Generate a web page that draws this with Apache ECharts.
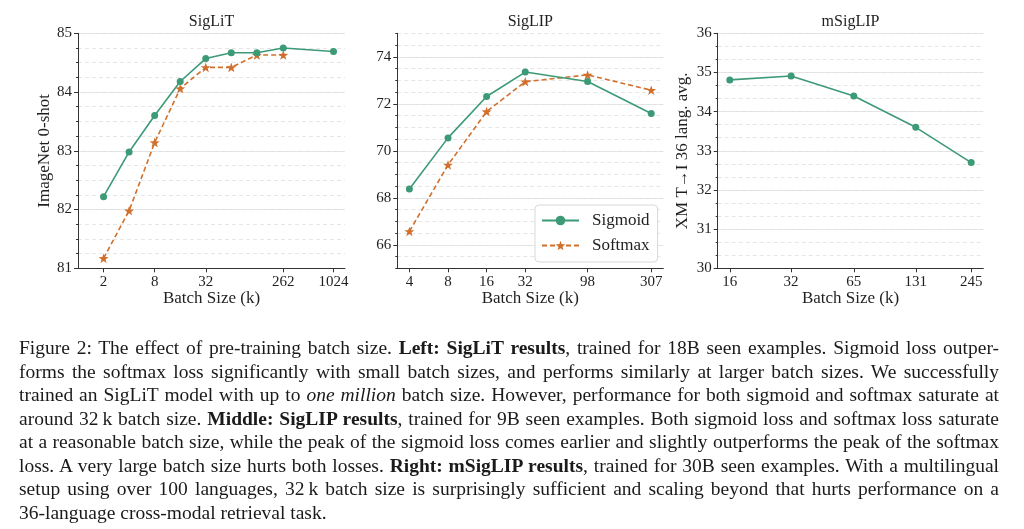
<!DOCTYPE html>
<html>
<head>
<meta charset="utf-8">
<script src="https://cdn.jsdelivr.net/npm/echarts@6/dist/echarts.min.js"></script>
<style>
html,body{margin:0;padding:0;background:#fff;}
#chart{position:absolute;left:0;top:0;width:1024px;height:529px;}
#caption{position:absolute;left:19px;top:336px;width:980px;font-family:"Liberation Serif",serif;font-size:19.5px;color:#1a1a1a;}
#caption div{height:23.5px;line-height:23.5px;text-align:justify;text-align-last:justify;white-space:nowrap;}
#caption div.last{text-align-last:left;}
</style>
</head>
<body>
<div id="chart"></div>
<div id="caption">
<div>Figure 2: The effect of pre-training batch size. <b>Left: SigLiT results</b>, trained for 18B seen examples. Sigmoid loss outper-</div>
<div>forms the softmax loss significantly with small batch sizes, and performs similarly at larger batch sizes. We successfully</div>
<div>trained an SigLiT model with up to <i>one million</i> batch size. However, performance for both sigmoid and softmax saturate at</div>
<div>around 32&#8201;k batch size. <b>Middle: SigLIP results</b>, trained for 9B seen examples. Both sigmoid loss and softmax loss saturate</div>
<div>at a reasonable batch size, while the peak of the sigmoid loss comes earlier and slightly outperforms the peak of the softmax</div>
<div>loss. A very large batch size hurts both losses. <b>Right: mSigLIP results</b>, trained for 30B seen examples. With a multilingual</div>
<div>setup using over 100 languages, 32&#8201;k batch size is surprisingly sufficient and scaling beyond that hurts performance on a</div>
<div class="last">36-language cross-modal retrieval task.</div>
</div>
<script>
// ---- data ----
const siglitBatch   = [2, 4, 8, 16, 32, 64, 128, 262, 1024];
const siglitSigmoid = [82.22, 82.98, 83.60, 84.18, 84.57, 84.67, 84.67, 84.75, 84.69];
const siglitSoftmax = [81.17, 81.98, 83.14, 84.06, 84.42, 84.42, 84.63, 84.63];
const siglitXTicks  = [2, 8, 32, 262, 1024];
const siglitYTicks  = [81, 82, 83, 84, 85];

const siglipBatch   = [4, 8, 16, 32, 98, 307];
const siglipSigmoid = [68.37, 70.55, 72.31, 73.35, 72.95, 71.59];
const siglipSoftmax = [66.57, 69.40, 71.67, 72.94, 73.23, 72.58];
const siglipXTicks  = [4, 8, 16, 32, 98, 307];
const siglipYTicks  = [66, 68, 70, 72, 74];

const msiglipBatch   = [16, 32, 65, 131, 245];
const msiglipSigmoid = [34.81, 34.91, 34.40, 33.60, 32.70];
const msiglipXTicks  = [16, 32, 65, 131, 245];
const msiglipYTicks  = [30, 31, 32, 33, 34, 35, 36];

const titles = ['SigLiT', 'SigLIP', 'mSigLIP'];
const xName = 'Batch Size (k)';
const yNames = ['ImageNet 0-shot', '', 'XM T\u2192I 36 lang. avg.'];
const seriesNames = ['Sigmoid', 'Softmax'];

// ---- style ----
const FONT = '"Liberation Serif", "DejaVu Serif", serif';
const GREEN = '#3c9a76';
const ORANGE = '#d0702c';
const AXIS = '#333';
const TXT = '#1f1f1f';
const STAR = 'path://M0,-10L2.35,-3.24L9.51,-3.09L3.8,1.24L5.88,8.09L0,4L-5.88,8.09L-3.8,1.24L-9.51,-3.09L-2.35,-3.24Z';

const grids = [
  {left: 78, top: 33.3, width: 267, height: 235},
  {left: 397.3, top: 33.3, width: 266, height: 235},
  {left: 717.7, top: 33.3, width: 265.6, height: 235}
];
const xRanges = [[0, 10.45], [1.687, 8.575], [3.803, 8.134]];
const yRanges = [[81, 85], [65, 75], [30, 36]];
const yMinor = [0.25, 0.5, 1/3];
const yNameGap = [25, 0, 27];

function xAxisFor(g, ticks) {
  const vals = ticks.map(Math.log2);
  return {
    type: 'value', gridIndex: g, min: xRanges[g][0], max: xRanges[g][1],
    axisLine: {show: true, onZero: false, lineStyle: {color: AXIS, width: 1}},
    axisTick: {show: true, customValues: vals, length: 4, lineStyle: {color: AXIS}},
    axisLabel: {
      customValues: vals, margin: 6, fontSize: 15, color: TXT, fontFamily: FONT,
      formatter: v => { const i = vals.findIndex(t => Math.abs(t - v) < 1e-6); return i >= 0 ? String(ticks[i]) : ''; }
    },
    splitLine: {show: false},
    name: xName, nameLocation: 'middle', nameGap: 21,
    nameTextStyle: {fontSize: 17, color: TXT, fontFamily: FONT}
  };
}
function yAxesFor(g, ticks) {
  return [{
    type: 'value', gridIndex: g, position: 'left', min: yRanges[g][0], max: yRanges[g][1],
    axisLine: {show: true, onZero: false, lineStyle: {color: AXIS, width: 1}},
    axisTick: {show: true, customValues: ticks, length: 4, lineStyle: {color: AXIS}},
    axisLabel: {customValues: ticks, margin: 6, fontSize: 15, color: TXT, fontFamily: FONT},
    splitLine: {show: true, lineStyle: {color: '#e0e0e0', width: 1, type: 'solid'}},
    name: yNames[g], nameLocation: 'middle', nameGap: yNameGap[g],
    nameTextStyle: {fontSize: 17, color: TXT, fontFamily: FONT}
  }, {
    type: 'value', gridIndex: g, position: 'left', offset: 0, min: yRanges[g][0], max: yRanges[g][1],
    interval: yMinor[g],
    axisLine: {show: false},
    axisTick: {show: true, length: 2, lineStyle: {color: AXIS}},
    axisLabel: {show: false},
    splitLine: {show: true, lineStyle: {color: '#e6e6e6', width: 1, type: [4, 3]}}
  }];
}
function pts(batch, vals) { return vals.map((v, i) => [Math.log2(batch[i]), v]); }
function lineSeries(name, g, data, color, dashed) {
  return {
    type: 'line', name, xAxisIndex: g, yAxisIndex: g * 2, data,
    symbol: dashed ? STAR : 'circle', symbolSize: dashed ? 10 : 7, symbolKeepAspect: true,
    showSymbol: true, clip: false, animation: false, z: dashed ? 3 : 4,
    lineStyle: {color, width: 1.6, type: dashed ? [5, 3] : 'solid'},
    itemStyle: {color}
  };
}

const chart = echarts.init(document.getElementById('chart'), null, {renderer: 'canvas'});
chart.setOption({
  backgroundColor: '#fff',
  animation: false,
  grid: grids.map(g => Object.assign({outerBoundsMode: 'none', containLabel: false}, g)),
  xAxis: [xAxisFor(0, siglitXTicks), xAxisFor(1, siglipXTicks), xAxisFor(2, msiglipXTicks)],
  yAxis: [...yAxesFor(0, siglitYTicks), ...yAxesFor(1, siglipYTicks), ...yAxesFor(2, msiglipYTicks)],
  legend: {
    data: seriesNames, orient: 'vertical', left: 535, top: 205,
    padding: [7, 8, 8, 6], itemWidth: 37, itemHeight: 12, itemGap: 8,
    borderColor: '#d8d8d8', borderWidth: 1, borderRadius: 4, backgroundColor: 'rgba(255,255,255,0.9)',
    textStyle: {fontSize: 17, fontFamily: FONT, color: TXT, padding: [0, 0, 0, 8]}
  },
  graphic: titles.map((t, i) => ({
    type: 'text', x: grids[i].left + grids[i].width / 2, y: 22,
    style: {text: t, align: 'center', verticalAlign: 'middle', font: '16px ' + FONT, fill: TXT}
  })),
  series: [
    lineSeries(seriesNames[0], 0, pts(siglitBatch, siglitSigmoid), GREEN, false),
    lineSeries(seriesNames[1], 0, pts(siglitBatch, siglitSoftmax), ORANGE, true),
    lineSeries(seriesNames[0], 1, pts(siglipBatch, siglipSigmoid), GREEN, false),
    lineSeries(seriesNames[1], 1, pts(siglipBatch, siglipSoftmax), ORANGE, true),
    lineSeries(seriesNames[0], 2, pts(msiglipBatch, msiglipSigmoid), GREEN, false)
  ]
});
</script>
</body>
</html>
